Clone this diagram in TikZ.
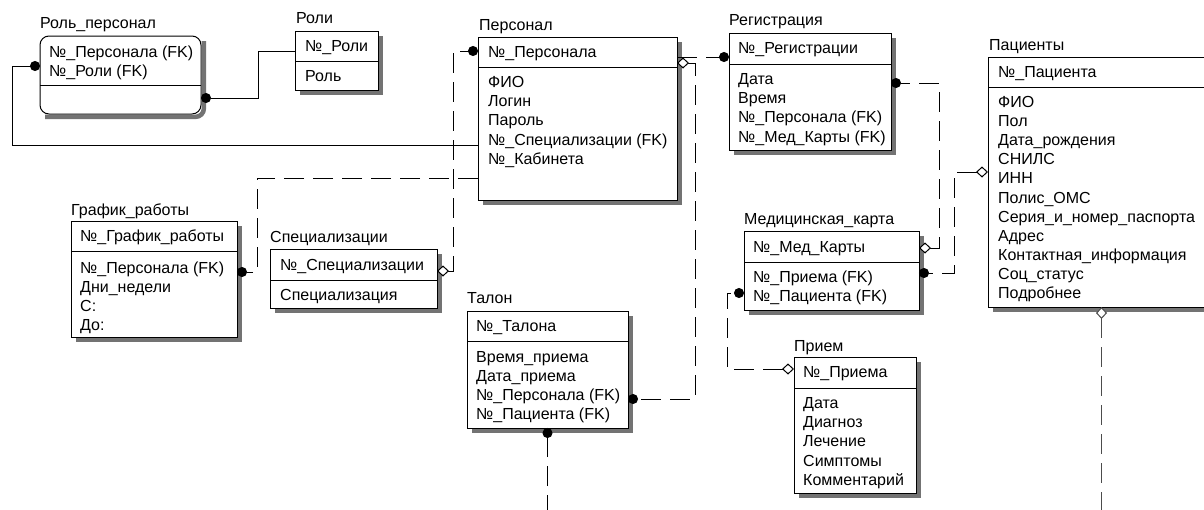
\documentclass[tikz,border=0pt]{standalone}
\usepackage{fontspec}
\setmainfont{Liberation Sans}
\usetikzlibrary{arrows.meta}
\definecolor{shadowgray}{RGB}{115,115,115}
\begin{document}
\begin{tikzpicture}[x=1pt,y=-1pt,
  every node/.style={font=\fontsize{16}{19}\selectfont},
  entity/.style={draw=black, line width=1pt, fill=white, inner sep=0pt, outer sep=0pt,
    anchor=north west},
  dependent/.style={entity, rounded corners=9pt},
  boxshadow/.style={draw=shadowgray, line width=4.5pt, line cap=butt, line join=miter},
  title/.style={anchor=base west, inner sep=0pt},
  attr/.style={anchor=base west, inner sep=0pt},
  divider/.style={line width=1pt},
  rel/.style={line width=1pt, draw=black},
  nonid/.style={rel, dash pattern=on 20pt off 9pt},
  fkdot/.style={-{Circle[length=10pt]}},
  nulldot/.style={{Diamond[length=12pt,width=11pt,fill=white]}-{Circle[length=10pt]}},
  nullend/.style={{Diamond[length=12pt,width=11pt,fill=white]}-},
]
\useasboundingbox (0,0) rectangle (1204,509);
\clip (0,0) rectangle (1204,509);
\fill[white] (0,0) rectangle (1204,509);

% ---------- entities ----------
% Роль_персонал
\node[title] (rp-t) at (40,28.5) {Роль\_персонал};
\node[dependent, minimum width=161pt, minimum height=78pt] (rp) at (40,36) {};
\draw[divider] (rp.west |- 0,85) -- (rp.east |- 0,85);
\node[attr] (rp-k1) at (49,57.5) {№\_Персонала (FK)};
\node[attr] (rp-k2) at (49,76.5) {№\_Роли (FK)};

% Роли
\node[title] (roli-t) at (296,23.5) {Роли};
\node[entity, minimum width=83pt, minimum height=59pt] (roli) at (295,31) {};
\draw[divider] (roli.west |- 0,61) -- (roli.east |- 0,61);
\node[attr] (roli-k) at (305,51.5) {№\_Роли};
\node[attr] (roli-a1) at (305,81.5) {Роль};

% Персонал
\node[title] (pers-t) at (479,30.5) {Персонал};
\node[entity, minimum width=199pt, minimum height=163pt] (pers) at (478,37) {};
\draw[divider] (pers.west |- 0,67) -- (pers.east |- 0,67);
\node[attr] (pers-k) at (488,57.5) {№\_Персонала};
\foreach \t [count=\i] in {ФИО,Логин,Пароль,№\_Специализации (FK),№\_Кабинета}
  \node[attr] (pers-a\i) at (488,68.3+19.2*\i) {\t};

% Регистрация
\node[title] (reg-t) at (729,25.5) {Регистрация};
\node[entity, minimum width=162pt, minimum height=117pt] (reg) at (729,33) {};
\draw[divider] (reg.west |- 0,64) -- (reg.east |- 0,64);
\node[attr] (reg-k) at (738,53.5) {№\_Регистрации};
\foreach \t [count=\i] in {Дата,Время,№\_Персонала (FK),№\_Мед\_Карты (FK)}
  \node[attr] (reg-a\i) at (738,65.3+19.2*\i) {\t};

% Пациенты
\node[title] (pat-t) at (989,50.5) {Пациенты};
\node[entity, minimum width=227pt, minimum height=250pt] (pat) at (988,57) {};
\draw[divider] (pat.west |- 0,87) -- (pat.east |- 0,87);
\node[attr] (pat-k) at (998,77.5) {№\_Пациента};
\foreach \t [count=\i] in {ФИО,Пол,Дата\_рождения,СНИЛС,ИНН,Полис\_ОМС,Серия\_и\_номер\_паспорта,Адрес,Контактная\_информация,Соц\_статус,Подробнее}
  \node[attr] (pat-a\i) at (998,88.4+19.1*\i) {\t};

% График_работы
\node[title] (sched-t) at (71,215.5) {График\_работы};
\node[entity, minimum width=166pt, minimum height=116pt] (sched) at (71,221) {};
\draw[divider] (sched.west |- 0,251) -- (sched.east |- 0,251);
\node[attr] (sched-k) at (80,241.5) {№\_График\_работы};
\foreach \t [count=\i] in {№\_Персонала (FK),Дни\_недели,С:,До:}
  \node[attr] (sched-a\i) at (80,254.5+19*\i) {\t};

% Специализации
\node[title] (spec-t) at (270,242.5) {Специализации};
\node[entity, minimum width=167pt, minimum height=59pt] (spec) at (270,249) {};
\draw[divider] (spec.west |- 0,280) -- (spec.east |- 0,280);
\node[attr] (spec-k) at (280,270.5) {№\_Специализации};
\node[attr] (spec-a1) at (280,300.5) {Специализация};

% Талон
\node[title] (talon-t) at (467,303.5) {Талон};
\node[entity, minimum width=161pt, minimum height=117pt] (talon) at (467,311) {};
\draw[divider] (talon.west |- 0,341) -- (talon.east |- 0,341);
\node[attr] (talon-k) at (476,331.5) {№\_Талона};
\foreach \t [count=\i] in {Время\_приема,Дата\_приема,№\_Персонала (FK),№\_Пациента (FK)}
  \node[attr] (talon-a\i) at (476,343.5+19*\i) {\t};

% Медицинская_карта
\node[title] (card-t) at (744,224.5) {Медицинская\_карта};
\node[entity, minimum width=175pt, minimum height=79pt] (card) at (744,231) {};
\draw[divider] (card.west |- 0,262) -- (card.east |- 0,262);
\node[attr] (card-k) at (753,252.5) {№\_Мед\_Карты};
\node[attr] (card-a1) at (753,282.5) {№\_Приема (FK)};
\node[attr] (card-a2) at (753,301.5) {№\_Пациента (FK)};

% Прием
\node[title] (visit-t) at (794,351.5) {Прием};
\node[entity, minimum width=122pt, minimum height=136pt] (visit) at (794,357) {};
\draw[divider] (visit.west |- 0,388) -- (visit.east |- 0,388);
\node[attr] (visit-k) at (803,377.5) {№\_Приема};
\foreach \t [count=\i] in {Дата,Диагноз,Лечение,Симптомы,Комментарий}
  \node[attr] (visit-a\i) at (803,389.3+19.2*\i) {\t};

% ---------- box shadows along the right and bottom edges ----------
\draw[boxshadow, rounded corners=8pt]
  ([shift={(2.8,5)}]rp.north east) -- ([shift={(2.8,2.8)}]rp.south east)
  -- ([shift={(5,2.8)}]rp.south west);
\foreach \b in {roli,pers,reg,pat,sched,spec,talon,card,visit}
  \draw[boxshadow] ([shift={(2.8,5)}]\b.north east) -- ([shift={(2.8,2.8)}]\b.south east)
    -- ([shift={(5,2.8)}]\b.south west);

% ---------- relationships ----------
% identifying
\draw[rel, fkdot] (pers.west |- 0,145) -| (12,66) -- (rp.west |- 0,66);
\draw[rel, fkdot] (roli.west |- 0,51) -| (258,98) -- (rp.east |- 0,98);
% non-identifying
\draw[nonid, nulldot] (spec.east |- 0,271) -| (453,51) -- (pers.west |- 0,51);
\draw[nonid, fkdot] (pers.west |- 0,178) -| (257,272) -- (sched.east |- 0,272);
\draw[nonid, fkdot] (pers.east |- 0,57) -- (reg.west |- 0,57);
\draw[nonid, nulldot] (pers.east |- 0,63) -| (695,399) -- (talon.east |- 0,399);
\draw[nonid, nulldot] (card.east |- 0,248) -| (939,83) -- (reg.east |- 0,83);
\draw[nonid, nulldot] (pat.west |- 0,172) -| (954,273) -- (card.east |- 0,273);
\draw[nonid, nulldot] (visit.west |- 0,369) -| (727,293) -- (card.west |- 0,293);
% links running below the sheet
\coordinate (talon-out) at (547.5,515);
\coordinate (pat-out) at (1101.5,515);
\draw[nonid, fkdot] (talon-out) -- (talon.south);
\draw[nonid, nullend, draw=black!70] (pat.south) -- (pat-out);
\end{tikzpicture}
\end{document}
